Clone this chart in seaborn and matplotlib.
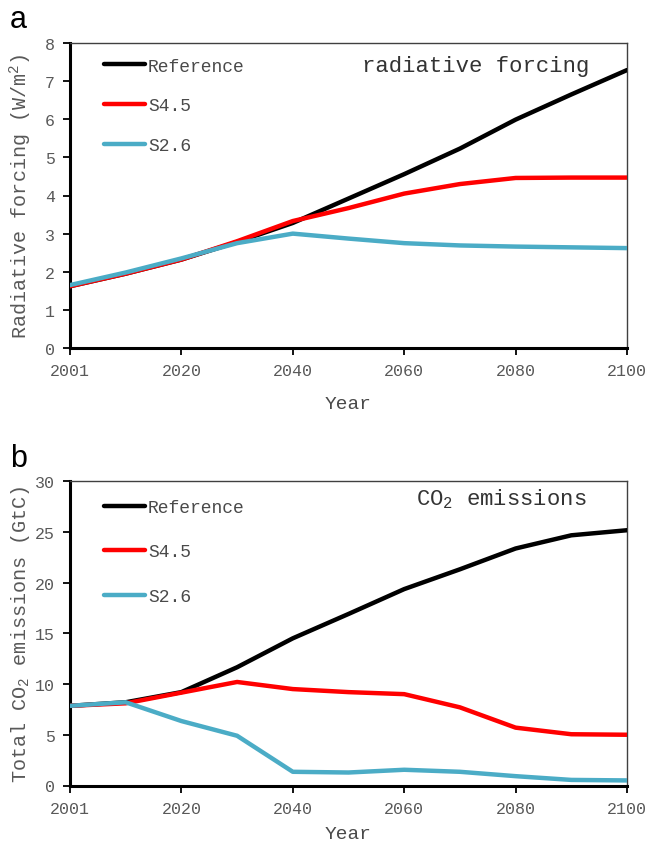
import matplotlib
matplotlib.use("Agg")
import matplotlib.pyplot as plt
import numpy as np
import pandas as pd
import seaborn as sns

# ---------------- data ----------------
years = [2001, 2010, 2020, 2030, 2040, 2050, 2060, 2070, 2080, 2090, 2100]
tick_years = [2001, 2020, 2040, 2060, 2080, 2100]
scenarios = ["Reference", "S4.5", "S2.6"]

rf_reference = [1.62, 1.95, 2.32, 2.78, 3.28, 3.92, 4.56, 5.23, 5.99, 6.65, 7.29]
rf_s45 = [1.62, 1.95, 2.32, 2.80, 3.33, 3.67, 4.05, 4.30, 4.46, 4.47, 4.47]
rf_s26 = [1.65, 1.98, 2.35, 2.75, 3.00, 2.87, 2.75, 2.69, 2.66, 2.64, 2.62]

co2_reference = [7.85, 8.2, 9.2, 11.65, 14.5, 16.9, 19.35, 21.3, 23.35, 24.65, 25.15]
co2_s45 = [7.85, 8.1, 9.15, 10.2, 9.5, 9.2, 9.0, 7.7, 5.7, 5.05, 5.0]
co2_s26 = [7.85, 8.2, 6.35, 4.9, 1.35, 1.28, 1.55, 1.35, 0.92, 0.55, 0.5]

colors = {"Reference": "#000000", "S4.5": "#FF0000", "S2.6": "#4BACC6"}

# ---------------- style ----------------
sns.set_theme(style="white")
plt.rcParams["font.family"] = ["Liberation Mono", "DejaVu Sans Mono"]
plt.rcParams["mathtext.fontset"] = "custom"
plt.rcParams["mathtext.rm"] = "Liberation Mono"
plt.rcParams["mathtext.it"] = "Liberation Mono"

TICK_C = "#595959"
LABEL_C = "#4a4a4a"
TEXT_C = "#333333"


def make_df(series):
    rows = []
    for name, vals in zip(scenarios, series):
        for i, (yr, v) in enumerate(zip(years, vals)):
            rows.append({"pos": i, "year": yr, "value": v, "scenario": name})
    return pd.DataFrame(rows)


df_rf = make_df([rf_reference, rf_s45, rf_s26])
df_co2 = make_df([co2_reference, co2_s45, co2_s26])

fig = plt.figure(figsize=(6.51, 8.45), dpi=100)
ax_a = fig.add_axes([70 / 651, 1 - 349 / 845, 557 / 651, 305 / 845])
ax_b = fig.add_axes([70 / 651, 1 - 786.5 / 845, 557 / 651, 304.5 / 845])


def style_axes(ax, ymax, ystep, ylabel, ylabel_x, xlabel_y, leg_y, labelspacing,
               title, title_x, title_y):
    ax.set_xlim(0, len(years) - 1)
    ax.set_ylim(0, ymax)
    ax.set_yticks(np.arange(0, ymax + 0.001, ystep))
    ax.set_xticks([years.index(y) for y in tick_years])
    ax.set_xticklabels([str(y) for y in tick_years])
    ax.tick_params(axis="both", which="major", direction="out", length=5,
                   width=1.3, color="black", labelsize=12, labelcolor=TICK_C,
                   left=True, bottom=True, pad=6)
    for s in ["left", "bottom"]:
        ax.spines[s].set_linewidth(2.2)
        ax.spines[s].set_color("black")
    for s in ["top", "right"]:
        ax.spines[s].set_linewidth(1.0)
        ax.spines[s].set_color("#404040")
    ax.set_ylabel(ylabel, fontsize=14.5, color=TICK_C)
    ax.yaxis.set_label_coords(ylabel_x, 0.5)
    ax.set_xlabel("Year", fontsize=14, color=LABEL_C)
    ax.xaxis.set_label_coords(0.5, xlabel_y)
    handles, labels = ax.get_legend_handles_labels()
    leg = ax.legend(handles, labels, loc="upper left",
                    bbox_to_anchor=(34 / 557, leg_y), frameon=False,
                    borderpad=0, borderaxespad=0, handlelength=2.27,
                    handletextpad=0.17, labelspacing=labelspacing,
                    fontsize=13, labelcolor=LABEL_C)
    for ln in leg.get_lines():
        ln.set_linewidth(3.2)
    ax.text(title_x, title_y, title, transform=ax.transAxes, fontsize=16,
            color=TEXT_C, ha="left", va="baseline")


for ax, df in [(ax_a, df_rf), (ax_b, df_co2)]:
    sns.lineplot(data=df, x="pos", y="value", hue="scenario",
                 hue_order=scenarios, palette=colors, linewidth=3.2,
                 sort=False, ax=ax, legend=True, zorder=3)

style_axes(ax_a, 8, 1, "Radiative forcing (W/m$^2$)", -0.064, -0.155, 0.952,
           1.26, "radiative forcing", 0.524, 0.909)
style_axes(ax_b, 30, 5, "Total CO$_2$ emissions (GtC)", -0.068, -0.13, 0.941,
           1.52, "CO$_2$ emissions", 0.622, 0.924)

fig.text(10 / 651, 1 - 28 / 845, "a", fontsize=22, family="Liberation Sans",
         color="black", ha="left", va="baseline")
fig.text(10 / 651, 1 - 467 / 845, "b", fontsize=22, family="Liberation Sans",
         color="black", ha="left", va="baseline")

fig.savefig("out.png", dpi=100)
